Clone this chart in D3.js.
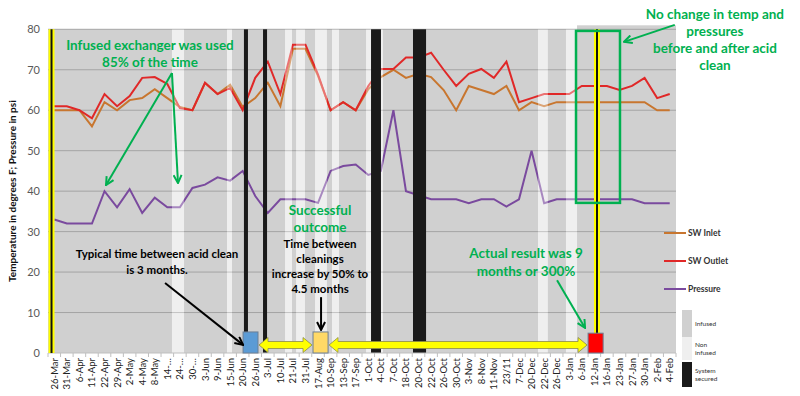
<!DOCTYPE html>
<html lang="en">
<head>
<meta charset="utf-8">
<title>Acid clean</title>
<script src="https://cdn.jsdelivr.net/npm/d3@7/dist/d3.min.js"></script>
<style>
  body { margin: 0; background: #fff; }
  text { font-family: Lato, "Open Sans", sans-serif; }
</style>
</head>
<body>
<script>

// sample dates (x axis)
var dates = ["26-Mar","31-Mar","6-Apr","11-Apr","22-Apr","29-Apr","2-May","4-May","8-May","14-\u2026",
             "24-\u2026","30-\u2026","3-Jun","9-Jun","15-Jun","20-Jun","26-Jun","3-Jul","10-Jul","21-Jul",
             "31-Jul","17-Aug","10-Sep","13-Sep","17-Sep","1-Oct","4-Oct","7-Oct","18-Oct","20-Oct",
             "22-Oct","26-Oct","30-Oct","3-Nov","8-Nov","11-Nov","23/11","7-Dec","20-Dec","22-Dec",
             "26-Dec","3-Jan","6-Jan","12-Jan","16-Jan","23-Jan","27-Jan","30-Jan","2-Feb","4-Feb"];

var swInlet = [60,60,60,56,62,60,62.5,63,65.2,63,
               60.8,60,66.7,64,66.3,60.8,63,66.8,61,75.2,
               75.2,68.5,60,62,60,65.2,68.2,70,68,69,
               68.2,65,60,66,65,64,66,60,62,61,
               62,62,62,62,62,62,62,62,60,60];

var swOutlet = [61,61,60,58,64,61,63.5,68,68.2,66.5,
                60.5,60,66.8,64,65.5,60,68,72,64,76.2,
                76.2,68.8,60,62,60,66,70.2,70.2,73,73,
                74.2,70,66,69,70.2,68,72,62,63,64,
                64,64,66,66,66,65,66,68,63,64];

var pressure = [33,32,32,32,40,36,40.5,34.6,38.4,36,
                36,40.8,41.6,43.4,42.6,45,38.8,34.6,38,38,
                38,37.1,45,46.2,46.6,44,45,60,40,39,
                38,38,38,37,38,38,36.2,38,50,37,
                38,38,38,38,38,38,38,37,37,37];

var yTicks = [0,10,20,30,40,50,60,70,80];

// exchanger status, as [from, to] in category positions
var nonInfused = [[9.37,10.33],[13.75,14.15],[18.37,18.93],[19.25,19.96],[20.76,21.71],
                  [22.11,22.67],[24.82,25.22],[26.01,26.17],[38.51,39.3],[40.74,41.62]];
var secured = [[15.1,15.42],[16.62,16.94],[25.22,26.01],[28.56,29.6]];
var acidCleans = [-0.22, 43.21];

// cleaning boxes and the spans between them
var cleanBoxes = [{from:15.03, to:16.22, top:5.2, fill:"#5b9bd5"},
                  {from:20.6,  to:21.8,  top:5.2, fill:"#ffd966"},
                  {from:42.5,  to:43.7,  top:4.9, fill:"#ff0000"}];
var spans = [[16.22,20.6],[21.8,42.5]];

var seriesNames = ["SW Inlet","SW Outlet","Pressure"];
var seriesColors = ["#c8762f","#e02828","#7a4a9e"];

var green = "#00b050";

var width = 800, height = 396;
var plotLeft = 48, plotRight = 676, plotTop = 29.3, plotBottom = 353;

var svg = d3.select("body").append("svg")
    .attr("width", width)
    .attr("height", height);

var x = d3.scaleLinear().domain([-0.5, dates.length - 0.5]).range([plotLeft, plotRight]);
var y = d3.scaleLinear().domain([0, 80]).range([plotBottom, plotTop]);

// arrow heads
var defs = svg.append("defs");
[["greenHead", green], ["blackHead", "#000"]].forEach(function(m) {
    defs.append("marker")
        .attr("id", m[0])
        .attr("viewBox", "0 0 10 10")
        .attr("refX", 9).attr("refY", 5)
        .attr("markerWidth", 5).attr("markerHeight", 5)
        .attr("orient", "auto")
        .append("path")
        .attr("d", "M1,1 L9,5 L1,9")
        .attr("fill", "none")
        .attr("stroke", m[1])
        .attr("stroke-width", 2);
});

// infused background
svg.append("rect")
    .attr("x", x(-0.5)).attr("y", y(80))
    .attr("width", x(49.5) - x(-0.5)).attr("height", y(0) - y(80))
    .attr("fill", "#d0d0d0");
svg.append("rect")
    .attr("x", x(41.62)).attr("y", y(80) - 4)
    .attr("width", x(49.5) - x(41.62)).attr("height", y(0) - y(80) + 4)
    .attr("fill", "#d0d0d0");

// non infused strips, base colour
svg.selectAll(".nonBase").data(nonInfused).enter().append("rect")
    .attr("x", function(d) { return x(d[0]); })
    .attr("width", function(d) { return x(d[1]) - x(d[0]); })
    .attr("y", y(80)).attr("height", y(0) - y(80))
    .attr("fill", "#e6e6e6");

// grid
svg.selectAll(".grid").data(yTicks.slice(1)).enter().append("line")
    .attr("x1", plotLeft).attr("x2", plotRight)
    .attr("y1", function(d) { return y(d); })
    .attr("y2", function(d) { return y(d); })
    .attr("stroke", "#a4a4a4")
    .attr("stroke-width", 1);

// y labels
svg.selectAll(".ylab").data(yTicks).enter().append("text")
    .attr("x", 40)
    .attr("y", function(d) { return y(d) + 4; })
    .attr("text-anchor", "end")
    .attr("font-size", 11)
    .attr("fill", "#595959")
    .text(function(d) { return d; });

svg.append("text")
    .attr("transform", "translate(16," + ((plotTop + plotBottom) / 2) + ") rotate(-90)")
    .attr("text-anchor", "middle")
    .attr("font-size", 10)
    .attr("font-weight", "bold")
    .attr("fill", "#111")
    .text("Temperature in degrees F; Pressure in psi");

// lines
var line = d3.line()
    .x(function(d, i) { return x(i); })
    .y(function(d) { return y(d); });

[swInlet, swOutlet, pressure].forEach(function(s, k) {
    svg.append("path")
        .attr("d", line(s))
        .attr("fill", "none")
        .attr("stroke", seriesColors[k])
        .attr("stroke-width", 2);
});

// non infused strips, light veil over the lines
svg.selectAll(".non").data(nonInfused).enter().append("rect")
    .attr("x", function(d) { return x(d[0]); })
    .attr("width", function(d) { return x(d[1]) - x(d[0]); })
    .attr("y", y(80)).attr("height", y(0) - y(80))
    .attr("fill", "#fff")
    .attr("fill-opacity", 0.35);

svg.selectAll(".sec").data(secured).enter().append("rect")
    .attr("x", function(d) { return x(d[0]); })
    .attr("width", function(d) { return x(d[1]) - x(d[0]); })
    .attr("y", y(80)).attr("height", y(0) - y(80))
    .attr("fill", "#1a1a1a");

// x axis
svg.append("line")
    .attr("x1", plotLeft).attr("x2", plotRight)
    .attr("y1", plotBottom).attr("y2", plotBottom)
    .attr("stroke", "#bfbfbf");
svg.selectAll(".tick").data(d3.range(dates.length + 1)).enter().append("line")
    .attr("x1", function(d) { return x(d - 0.5); })
    .attr("x2", function(d) { return x(d - 0.5); })
    .attr("y1", plotBottom).attr("y2", plotBottom + 4)
    .attr("stroke", "#bfbfbf");
svg.selectAll(".xlab").data(dates).enter().append("text")
    .attr("transform", function(d, i) { return "translate(" + (x(i) + 3.5) + "," + (plotBottom + 5) + ") rotate(-90)"; })
    .attr("text-anchor", "end")
    .attr("font-size", 9.5)
    .attr("fill", "#222")
    .text(function(d) { return d; });

// acid clean markers
acidCleans.forEach(function(c) {
    svg.append("line")
        .attr("x1", x(c)).attr("x2", x(c))
        .attr("y1", y(80)).attr("y2", y(0))
        .attr("stroke", "#ffff00").attr("stroke-width", 6);
    svg.append("line")
        .attr("x1", x(c)).attr("x2", x(c))
        .attr("y1", y(80)).attr("y2", y(0))
        .attr("stroke", "#111").attr("stroke-width", 2);
});

// yellow double arrows between cleanings
var yc = y(0) - 8;
spans.forEach(function(s) {
    var a = x(s[0]) + 1, b = x(s[1]) - 1, hl = 9, sh = 3.5, hh = 7.5;
    var pts = [[a, yc], [a + hl, yc - hh], [a + hl, yc - sh], [b - hl, yc - sh], [b - hl, yc - hh],
               [b, yc], [b - hl, yc + hh], [b - hl, yc + sh], [a + hl, yc + sh], [a + hl, yc + hh]];
    svg.append("path")
        .attr("d", d3.line()(pts) + "Z")
        .attr("fill", "#ffff00")
        .attr("stroke", "#8a8a4a")
        .attr("stroke-width", 0.8);
});

svg.selectAll(".box").data(cleanBoxes).enter().append("rect")
    .attr("x", function(d) { return x(d.from); })
    .attr("width", function(d) { return x(d.to) - x(d.from); })
    .attr("y", function(d) { return y(d.top); })
    .attr("height", function(d) { return y(0) - y(d.top); })
    .attr("fill", function(d) { return d.fill; })
    .attr("stroke", "#6d7f94")
    .attr("stroke-width", 1);

// green box round the last clean
svg.append("rect")
    .attr("x", x(41.54)).attr("y", y(79.6))
    .attr("width", x(45.04) - x(41.54)).attr("height", y(37.1) - y(79.6))
    .attr("fill", "none")
    .attr("stroke", green)
    .attr("stroke-width", 2.5);

// annotations
function note(lines, cx, vals, color, size) {
    lines.forEach(function(t, i) {
        svg.append("text")
            .attr("x", x(cx)).attr("y", y(vals[i]))
            .attr("text-anchor", "middle")
            .attr("font-size", size)
            .attr("font-weight", "bold")
            .attr("fill", color)
            .text(t);
    });
}
function arrow(x1, v1, x2, v2, head, color) {
    svg.append("line")
        .attr("x1", x(x1)).attr("y1", y(v1))
        .attr("x2", x(x2)).attr("y2", y(v2))
        .attr("stroke", color)
        .attr("stroke-width", 2)
        .attr("marker-end", "url(#" + head + ")");
}

note(["Infused exchanger was used", "85% of the time"], 7.62, [74.9, 70.7], green, 13.5);
arrow(9.37, 69.2, 4.12, 41.5, "greenHead", green);
arrow(9.37, 69.2, 9.85, 42.0, "greenHead", green);

note(["Typical time between acid clean", "is 3 months."], 8.18, [23.5, 19.5], "#000", 11.5);
arrow(8.82, 17.3, 15.03, 2.0, "blackHead", "#000");

note(["Successful", "outcome"], 21.16, [34.1, 29.9], green, 13.5);
note(["Time between", "cleanings", "increase by 50% to", "4.5 months"], 21.16, [26, 22.2, 18.5, 14.8], "#000", 11.5);
arrow(21.24, 13.8, 21.24, 5.7, "blackHead", "#000");

note(["Actual result was 9", "months or 300%"], 37.56, [23.5, 19.0], green, 13.5);
arrow(40.03, 18.0, 42.26, 6.2, "greenHead", green);

note(["No change in temp and", "pressures", "before and after acid", "clean"], 52.6, [82.6, 78.3, 74.1, 69.9], green, 13.5);
arrow(49.4, 81.1, 45.36, 76.9, "greenHead", green);

// series legend
var leg = svg.append("g");
seriesNames.forEach(function(n, k) {
    var ly = 233 + k * 28;
    leg.append("line")
        .attr("x1", 664).attr("x2", 686)
        .attr("y1", ly).attr("y2", ly)
        .attr("stroke", seriesColors[k])
        .attr("stroke-width", 2);
    leg.append("text")
        .attr("x", 688).attr("y", ly + 3)
        .attr("font-size", 8.5)
        .attr("font-weight", "bold")
        .attr("fill", "#333")
        .text(n);
});

// status legend
var statusItems = [{fill:"#d0d0d0", y0:310, y1:337, lines:["Infused"]},
                   {fill:"#efefef", y0:337, y1:360, lines:["Non", "infused"]},
                   {fill:"#1a1a1a", y0:362, y1:387, lines:["System", "secured"]}];
statusItems.forEach(function(s) {
    leg.append("rect")
        .attr("x", 682).attr("y", s.y0)
        .attr("width", 10).attr("height", s.y1 - s.y0)
        .attr("fill", s.fill);
    var mid = (s.y0 + s.y1) / 2;
    s.lines.forEach(function(t, i) {
        leg.append("text")
            .attr("x", 695)
            .attr("y", mid + 2.5 + (i - (s.lines.length - 1) / 2) * 8.5)
            .attr("font-size", 6.5)
            .attr("fill", "#333")
            .text(t);
    });
});

</script>
</body>
</html>
